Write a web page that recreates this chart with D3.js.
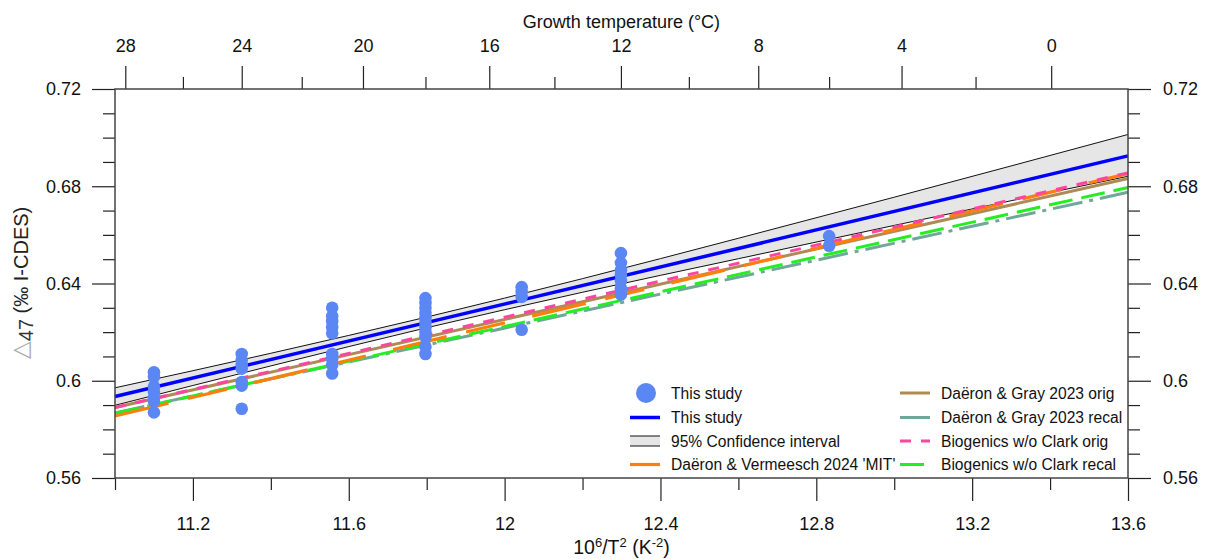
<!DOCTYPE html>
<html>
<head>
<meta charset="utf-8">
<script src="https://cdn.jsdelivr.net/npm/d3@7"></script>
<style>
  body { margin: 0; background: #fff; }
  svg { display: block; font-family: "Liberation Sans", Arial, sans-serif; }
</style>
</head>
<body>
<svg id="chart" width="1206" height="559"></svg>
<script>
// ------------------
// Data
// ------------------
const tempC = [27, 24, 21, 18, 15, 12, 6];           // growth temperature of each sample group
const d47 = [
  [0.6035, 0.6015, 0.5975, 0.5955, 0.593, 0.5915, 0.587],
  [0.611, 0.6085, 0.6065, 0.605, 0.5995, 0.598, 0.5885],
  [0.630, 0.6265, 0.6245, 0.622, 0.6195, 0.611, 0.609, 0.6065, 0.603],
  [0.634, 0.632, 0.630, 0.628, 0.626, 0.624, 0.622, 0.620, 0.618, 0.614, 0.611],
  [0.6385, 0.6365, 0.6345, 0.621],
  [0.6525, 0.6485, 0.6455, 0.6435, 0.641, 0.638, 0.6355],
  [0.6595, 0.6555]
];

const lineX = [11.0, 13.6];                          // x of both line ends
const studyLine = [0.5935, 0.6925];
const refNames = ["Daëron & Vermeesch 2024 'MIT'", "Daëron & Gray 2023 orig",
  "Daëron & Gray 2023 recal", "Biogenics w/o Clark orig", "Biogenics w/o Clark recal"];
const refStart = [0.5855, 0.5890, 0.5868, 0.5890, 0.5866];
const refEnd   = [0.6852, 0.6832, 0.6775, 0.6855, 0.6795];

const ciX     = [11.0, 11.4, 11.8, 12.2, 12.6, 13.0, 13.6];
const ciUpper = [0.5971, 0.6113, 0.6262, 0.6420, 0.6586, 0.6755, 0.7013];
const ciLower = [0.5899, 0.6061, 0.6218, 0.6364, 0.6502, 0.6639, 0.6841];

const xMajor = [11.2, 11.6, 12.0, 12.4, 12.8, 13.2, 13.6];
const xMinor = [11.0, 11.4, 11.8, 12.2, 12.6, 13.0, 13.4];
const yMajor = [0.56, 0.60, 0.64, 0.68, 0.72];
const yMinor = [0.57, 0.58, 0.59, 0.61, 0.62, 0.63, 0.65, 0.66, 0.67, 0.69, 0.70, 0.71];
const tMajor = [28, 24, 20, 16, 12, 8, 4, 0];
const tMinor = [26, 22, 18, 14, 10, 6, 2];

// ------------------
// Styles
// ------------------
const styles = {
  "Daëron & Vermeesch 2024 'MIT'": { color: "#ff7f0e", dash: "55,20,40,28", width: 3.2 },
  "Daëron & Gray 2023 orig":       { color: "#b08a55", dash: null, width: 3 },
  "Daëron & Gray 2023 recal":      { color: "#6fa898", dash: "30,7,4,7", width: 3 },
  "Biogenics w/o Clark orig":      { color: "#ff45a0", dash: "11,10", width: 3 },
  "Biogenics w/o Clark recal":     { color: "#22ee22", dash: "24,9", width: 3 }
};
const drawOrder = [2, 4, 1, 0, 3];
const pointColor = "#5b87f5";

// ------------------
// Scales & helpers
// ------------------
const M = { left: 115, right: 1128, top: 89, bottom: 478 };
const x = d3.scaleLinear().domain([11.0, 13.6]).range([M.left, M.right]);
const y = d3.scaleLinear().domain([0.56, 0.72]).range([M.bottom, M.top]);
const invT2 = t => 1e6 / Math.pow(t + 273.15, 2);
const fmt = d => String(+d.toFixed(2));

const svg = d3.select("#chart");
svg.append("rect").attr("width", 1206).attr("height", 559).attr("fill", "#fff");

const line = d3.line().x(d => x(d[0])).y(d => y(d[1]));

// ------------------
// Confidence band
// ------------------
const band = ciX.map((v, i) => ({ x: v, lo: ciLower[i], hi: ciUpper[i] }));
svg.append("path")
  .attr("d", d3.area().x(d => x(d.x)).y0(d => y(d.lo)).y1(d => y(d.hi)).curve(d3.curveMonotoneX)(band))
  .attr("fill", "#e6e6e6");
[ciUpper, ciLower].forEach(arr => {
  svg.append("path")
    .attr("d", d3.line().x((d, i) => x(ciX[i])).y(d => y(d)).curve(d3.curveMonotoneX)(arr))
    .attr("fill", "none").attr("stroke", "#111").attr("stroke-width", 1);
});

// ------------------
// Reference calibrations
// ------------------
drawOrder.forEach(i => {
  const s = styles[refNames[i]];
  svg.append("path")
    .attr("d", line([[lineX[0], refStart[i]], [lineX[1], refEnd[i]]]))
    .attr("fill", "none")
    .attr("stroke", s.color)
    .attr("stroke-width", s.width)
    .attr("stroke-dasharray", s.dash);
});

// This study regression
svg.append("path")
  .attr("d", line([[lineX[0], studyLine[0]], [lineX[1], studyLine[1]]]))
  .attr("fill", "none").attr("stroke", "#0000ff").attr("stroke-width", 3.5);

// Points
tempC.forEach((t, gi) => {
  svg.selectAll(null)
    .data(d47[gi])
    .enter().append("circle")
    .attr("cx", x(invT2(t)))
    .attr("cy", d => y(d))
    .attr("r", 6.3)
    .attr("fill", pointColor);
});

// ------------------
// Axes
// ------------------
function styleAxis(g) {
  g.select(".domain").remove();
  g.selectAll("line").attr("stroke", "#222").attr("stroke-width", 1.2);
  g.selectAll("text").attr("font-size", 18).attr("fill", "#111")
    .attr("font-family", "'Liberation Sans', Arial, sans-serif");
}

svg.append("g").attr("transform", `translate(${M.left},0)`)
  .call(d3.axisLeft(y).tickValues(yMajor).tickSize(23).tickPadding(11).tickFormat(fmt)).call(styleAxis);
svg.append("g").attr("transform", `translate(${M.left},0)`)
  .call(d3.axisLeft(y).tickValues(yMinor).tickSize(12).tickFormat("")).call(styleAxis);
svg.append("g").attr("transform", `translate(${M.right},0)`)
  .call(d3.axisRight(y).tickValues(yMajor).tickSize(23).tickPadding(12).tickFormat(fmt)).call(styleAxis);
svg.append("g").attr("transform", `translate(${M.right},0)`)
  .call(d3.axisRight(y).tickValues(yMinor).tickSize(12).tickFormat("")).call(styleAxis);

svg.append("g").attr("transform", `translate(0,${M.bottom})`)
  .call(d3.axisBottom(x).tickValues(xMajor).tickSize(23).tickPadding(16).tickFormat(d => String(+d.toFixed(1)))).call(styleAxis);
svg.append("g").attr("transform", `translate(0,${M.bottom})`)
  .call(d3.axisBottom(x).tickValues(xMinor).tickSize(12).tickFormat("")).call(styleAxis);

// Top axis: growth temperature
const topMajor = tMajor.map(invT2);
svg.append("g").attr("transform", `translate(0,${M.top})`)
  .call(d3.axisTop(x).tickValues(topMajor).tickSize(23).tickPadding(14)
    .tickFormat((d, i) => String(tMajor[i]))).call(styleAxis);
svg.append("g").attr("transform", `translate(0,${M.top})`)
  .call(d3.axisTop(x).tickValues(tMinor.map(invT2).filter(v => v <= 13.6)).tickSize(12).tickFormat("")).call(styleAxis);

// Frame
svg.append("rect")
  .attr("x", M.left).attr("y", M.top)
  .attr("width", M.right - M.left).attr("height", M.bottom - M.top)
  .attr("fill", "none").attr("stroke", "#444").attr("stroke-width", 1.5);

// Titles
svg.append("text").attr("x", (M.left + M.right) / 2).attr("y", 28)
  .attr("text-anchor", "middle").attr("font-size", 18).attr("fill", "#111")
  .text("Growth temperature (°C)");

const xt = svg.append("text").attr("x", (M.left + M.right) / 2).attr("y", 554)
  .attr("text-anchor", "middle").attr("font-size", 19.5).attr("fill", "#111");
xt.append("tspan").text("10");
xt.append("tspan").attr("font-size", 13).attr("dy", -7).text("6");
xt.append("tspan").attr("dy", 7).text("/T");
xt.append("tspan").attr("font-size", 13).attr("dy", -7).text("2");
xt.append("tspan").attr("dy", 7).text(" (K");
xt.append("tspan").attr("font-size", 13).attr("dy", -7).text("-2");
xt.append("tspan").attr("dy", 7).text(")");

const yt = svg.append("text").attr("transform", "translate(28,283) rotate(-90)")
  .attr("text-anchor", "middle").attr("font-size", 20).attr("fill", "#222");
yt.append("tspan").attr("fill", "#aaa").attr("font-size", 23).text("△");
yt.append("tspan").attr("dy", 5).attr("fill", "#333").text("47");
yt.append("tspan").attr("dy", -5).text(" (‰ I-CDES)");

// ------------------
// Legend
// ------------------
const rows = [393, 417.5, 441, 464.5];
const legend = svg.append("g").attr("font-size", 15.6).attr("fill", "#111");

function legendText(tx, ty, label) {
  legend.append("text").attr("x", tx).attr("y", ty + 5.5).text(label);
}

legend.append("circle").attr("cx", 646).attr("cy", rows[0]).attr("r", 10).attr("fill", pointColor);
legendText(671, rows[0], "This study");
legend.append("line").attr("x1", 630).attr("x2", 660).attr("y1", rows[1]).attr("y2", rows[1])
  .attr("stroke", "#0000ff").attr("stroke-width", 3.5);
legendText(671, rows[1], "This study");
legend.append("rect").attr("x", 630).attr("y", rows[2] - 5).attr("width", 30).attr("height", 10).attr("fill", "#e6e6e6");
[rows[2] - 5, rows[2] + 5].forEach(v => legend.append("line")
  .attr("x1", 630).attr("x2", 660).attr("y1", v).attr("y2", v).attr("stroke", "#111").attr("stroke-width", 1));
legendText(671, rows[2], "95% Confidence interval");

const legendSlots = [[630, rows[3]], [900, rows[0]], [900, rows[1]], [900, rows[2]], [900, rows[3]]];
refNames.forEach((name, i) => {
  const s = styles[name];
  const [lx, ly] = legendSlots[i];
  legend.append("line").attr("x1", lx).attr("x2", lx + 30).attr("y1", ly).attr("y2", ly)
    .attr("stroke", s.color).attr("stroke-width", s.width).attr("stroke-dasharray", i === 0 ? null : s.dash);
  legendText(lx + 41, ly, name);
});
</script>
</body>
</html>
